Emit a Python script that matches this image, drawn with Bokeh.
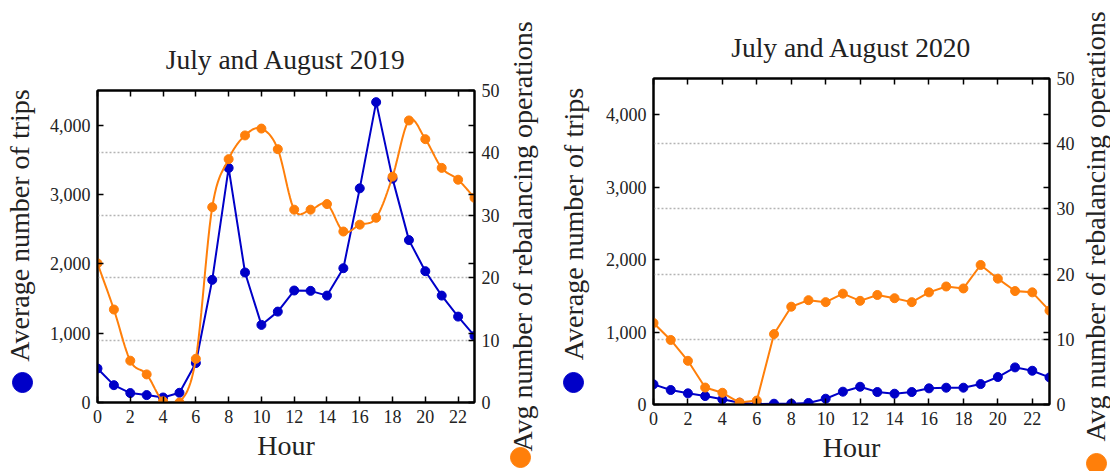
import numpy as np
from jinja2 import Template
from bokeh.plotting import figure
from bokeh.models import Range1d, LinearAxis, FixedTicker, NumeralTickFormatter
from bokeh.core.properties import value
from bokeh.embed import file_html
from bokeh.resources import INLINE

# ---------------- data ----------------
hours = list(range(24))
trips_2019 = [490, 250, 136, 107, 72, 140, 569, 1769, 3383, 1875, 1119, 1311,
              1615, 1610, 1542, 1937, 3089, 4332, 3229, 2342, 1894, 1542, 1239, 960]
rebal_2019 = [22.3, 14.9, 6.7, 4.5, 0.2, 0.0, 7.0, 31.3, 39.0, 42.8, 43.9, 40.6,
              30.9, 30.9, 31.8, 27.4, 28.5, 29.6, 36.2, 45.2, 42.2, 37.6, 35.7, 32.8]
trips_2020 = [278, 200, 154, 117, 71, 25, 3, 11, 11, 21, 80, 177,
              245, 172, 149, 172, 223, 232, 232, 282, 379, 512, 466, 374]
rebal_2020 = [12.5, 9.9, 6.7, 2.6, 1.8, 0.3, 0.6, 10.8, 15.0, 16.0, 15.7, 17.0,
              15.9, 16.8, 16.3, 15.7, 17.2, 18.1, 17.8, 21.4, 19.3, 17.4, 17.2, 14.4]

titles = ["July and August 2019", "July and August 2020"]
x_ticks = list(range(0, 24, 2))
left_ticks = [0, 1000, 2000, 3000, 4000]
right_ticks = [0, 10, 20, 30, 40, 50]
left_title = "Average number of trips"
right_title = "Avg number of rebalancing operations"
x_title = "Hour"

# ---------------- style ----------------
BLUE = "#0000c8"
ORANGE = "#ff7f0a"
FONT = "Liberation Serif"
TXT = "#222222"
NB = "\u00a0"
PAGE_W, PAGE_H = 1110, 471

# panel geometry: frame size and borders
P1 = dict(fw=377, fh=312, bl=97, br=80, bt=90, bb=68, x0=0, pad=6, lab_so=12)
P2 = dict(fw=396, fh=326, bl=98, br=57, bt=78, bb=66, x0=554, pad=5, lab_so=14)


def hermite_smooth(xs, ys, n=12):
    xs = np.asarray(xs, float)
    ys = np.asarray(ys, float)
    m = np.zeros_like(ys)
    m[1:-1] = (ys[2:] - ys[:-2]) / (xs[2:] - xs[:-2])
    m[0] = (ys[1] - ys[0]) / (xs[1] - xs[0])
    m[-1] = (ys[-1] - ys[-2]) / (xs[-1] - xs[-2])
    ox, oy = [], []
    for i in range(len(xs) - 1):
        h = xs[i + 1] - xs[i]
        for t in np.linspace(0, 1, n, endpoint=False):
            h00 = 2 * t**3 - 3 * t**2 + 1
            h10 = t**3 - 2 * t**2 + t
            h01 = -2 * t**3 + 3 * t**2
            h11 = t**3 - t**2
            ox.append(xs[i] + t * h)
            oy.append(h00 * ys[i] + h10 * h * m[i] + h01 * ys[i + 1] + h11 * h * m[i + 1])
    ox.append(xs[-1])
    oy.append(ys[-1])
    return ox, oy


def style_axis(ax):
    ax.major_tick_in = 6
    ax.major_tick_out = 0
    ax.minor_tick_in = 0
    ax.minor_tick_out = 0
    ax.axis_line_width = 2
    ax.axis_line_color = "black"
    ax.major_tick_line_color = "black"
    ax.major_tick_line_width = 1.5
    ax.major_label_text_font = FONT
    ax.major_label_text_font_size = "18px"
    ax.major_label_text_color = TXT
    ax.major_label_standoff = 7
    ax.axis_label_text_font = FONT
    ax.axis_label_text_font_size = "28px"
    ax.axis_label_text_font_style = "normal"
    ax.axis_label_text_color = TXT


def make_panel(title, trips, rebal, smooth, g):
    p = figure(frame_width=g["fw"], frame_height=g["fh"],
               x_range=Range1d(0, 23), y_range=Range1d(0, 4500),
               output_backend="svg", toolbar_location=None,
               min_border_left=g["bl"], min_border_right=g["br"],
               min_border_top=g["bt"], min_border_bottom=g["bb"])
    p.extra_y_ranges = {"r": Range1d(0, 50)}
    p.outline_line_color = "black"
    p.outline_line_width = 2
    p.background_fill_color = "white"
    p.border_fill_color = "white"

    p.title.text = title
    p.title.text_font = FONT
    p.title.text_font_size = "27.5px"
    p.title.text_font_style = "normal"
    p.title.text_color = TXT
    p.title.align = "center"
    if "standoff" in p.title.properties():
        p.title.standoff = 31

    p.xgrid.visible = False
    p.ygrid.ticker = FixedTicker(ticks=[v * 90 for v in right_ticks[1:-1]])
    p.ygrid.grid_line_color = "#b4b4b4"
    p.ygrid.grid_line_dash = "2 2"
    p.ygrid.grid_line_width = 1.5

    p.xaxis.ticker = FixedTicker(ticks=x_ticks)
    p.xaxis.axis_label = x_title
    style_axis(p.xaxis[0])
    p.xaxis.axis_label_standoff = 4
    p.yaxis.ticker = FixedTicker(ticks=left_ticks)
    p.yaxis.formatter = NumeralTickFormatter(format="0,0")
    p.yaxis.axis_label = NB * g["pad"] + left_title
    style_axis(p.yaxis[0])
    p.yaxis.axis_label_standoff = g["lab_so"]

    rax = LinearAxis(y_range_name="r",
                     ticker=FixedTicker(ticks=right_ticks,
                                        minor_ticks=[v * 50 / 4500 for v in left_ticks]))
    style_axis(rax)
    rax.minor_tick_in = 6
    rax.minor_tick_line_color = "black"
    rax.minor_tick_line_width = 1.5
    p.add_layout(rax, "right")

    tax = LinearAxis(ticker=FixedTicker(ticks=x_ticks))
    style_axis(tax)
    tax.major_label_text_font_size = "0px"
    tax.major_label_text_color = None
    tax.major_label_standoff = 0
    p.add_layout(tax, "above")

    if smooth:
        sx, sy = hermite_smooth(hours, rebal)
    else:
        sx, sy = hours, rebal
    p.line(hours, trips, color=BLUE, line_width=2)
    p.scatter(hours, trips, size=9, color=BLUE)
    p.line(sx, sy, color=ORANGE, line_width=2, y_range_name="r")
    p.scatter(hours, rebal, size=9, color=ORANGE, y_range_name="r")
    return p


p1 = make_panel(titles[0], trips_2019, rebal_2019, True, P1)
p2 = make_panel(titles[1], trips_2020, rebal_2020, False, P2)

# ---------------- overlay: coloured key bullets + right-hand axis titles ----------------
# page-pixel positions derived from each panel's frame geometry
def frame_box(g):
    left = g["x0"] + g["bl"]
    return left, left + g["fw"], g["bt"], g["bt"] + g["fh"]

f1, f2 = frame_box(P1), frame_box(P2)
blue_key = [(f1[0] - 75, f1[3] - 20), (f2[0] - 79, f2[3] - 22)]
orange_key = [(f1[1] + 46, f1[3] + 55), (f2[1] + 48, f2[3] + 59)]
rtitle_pos = [(f1[1] + 48, (f1[2] + f1[3]) / 2 - 10), (f2[1] + 47, (f2[2] + f2[3]) / 2 - 15)]

p0 = figure(width=PAGE_W, height=PAGE_H, x_range=Range1d(0, PAGE_W), y_range=Range1d(0, PAGE_H),
            output_backend="svg", toolbar_location=None, min_border=0,
            x_axis_location=None, y_axis_location=None)
p0.grid.visible = False
p0.outline_line_color = None
p0.background_fill_color = None
p0.border_fill_color = None
p0.styles = {"position": "absolute", "left": "0px", "top": "0px", "pointer-events": "none"}

p0.scatter([x for x, _ in blue_key], [PAGE_H - y for _, y in blue_key], size=20, color=BLUE)
p0.scatter([x for x, _ in orange_key], [PAGE_H - y for _, y in orange_key], size=20, color=ORANGE)
p0.text(x=[x for x, _ in rtitle_pos], y=[PAGE_H - y for _, y in rtitle_pos],
        text=[right_title, right_title], angle=np.pi / 2,
        text_font=value(FONT), text_font_size="28px", text_color=TXT,
        text_align="center", text_baseline="middle")

tmpl = Template(
    "{% extends base %}"
    "{% block postamble %}<style>html, body { margin: 0 !important; padding: 0 !important; }"
    " body { display: flex !important; flex-direction: row; align-items: flex-start; }"
    " body > div:nth-of-type(3) > * { position: absolute !important; left: 0 !important; top: 0 !important; }"
    "</style>{% endblock %}"
)

open("out.html", "w").write(file_html([p1, p2, p0], INLINE, template=tmpl))
